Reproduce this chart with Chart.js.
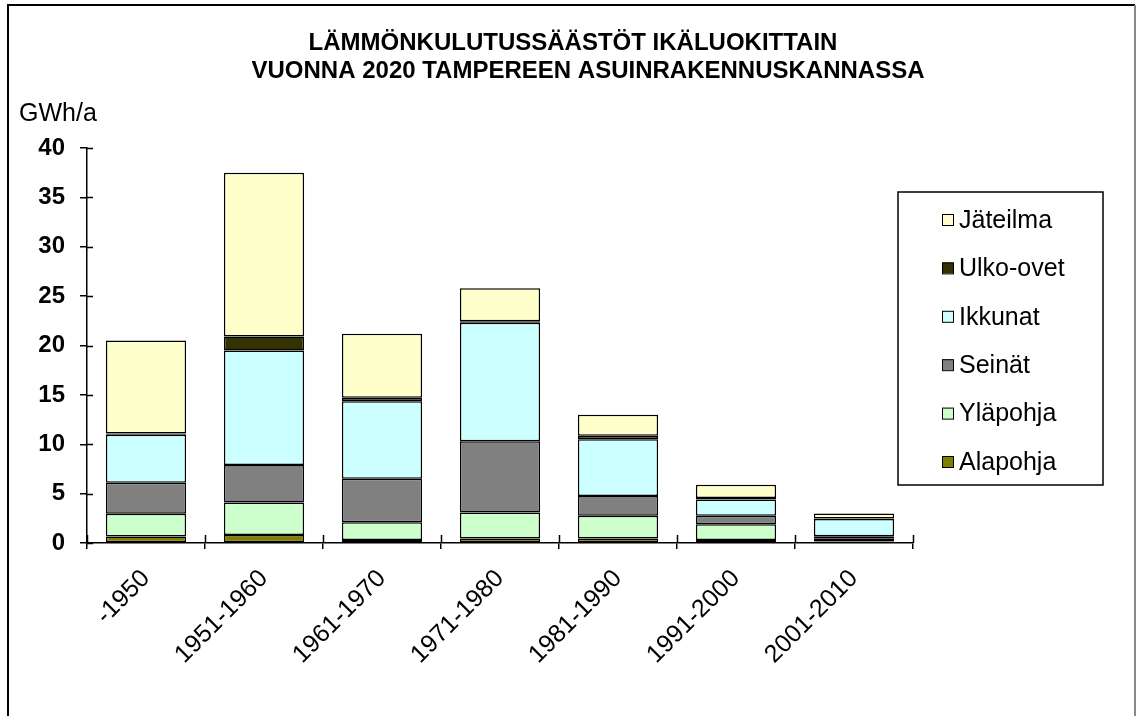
<!DOCTYPE html>
<html>
<head>
<meta charset="utf-8">
<script src="https://cdn.jsdelivr.net/npm/chart.js@4"></script>
<style>
  html, body { margin: 0; padding: 0; background: #fff; }
  #wrap { width: 1136px; height: 716px; }
</style>
</head>
<body>
<div id="wrap"><canvas id="lampo" width="1136" height="716"></canvas></div>
<script>
// ikäluokat ja säästöt (GWh/a)
var ikaluokat = ['-1950', '1951-1960', '1961-1970', '1971-1980', '1981-1990', '1991-2000', '2001-2010'];
var alapohja = [0.65, 0.8, 0.3, 0.45, 0.45, 0.3, 0.15];
var ylapohja = [2.3, 3.3, 1.8, 2.65, 2.3, 1.6, 0.27];
var seinat   = [3.15, 3.8, 4.4, 7.2, 2.0, 0.85, 0.27];
var ikkunat  = [4.85, 11.6, 7.85, 12.0, 5.75, 1.65, 1.75];
var ulkoovet = [0.15, 1.4, 0.35, 0.15, 0.35, 0.15, 0.05];
var jateilma = [9.4, 16.6, 6.5, 3.35, 2.15, 1.35, 0.5];
var yTicks = [0, 5, 10, 15, 20, 25, 30, 35, 40];

var otsikko = ['LÄMMÖNKULUTUSSÄÄSTÖT IKÄLUOKITTAIN', 'VUONNA 2020 TAMPEREEN ASUINRAKENNUSKANNASSA'];
var yksikko = 'GWh/a';

function sarja(nimi, arvot, vari) {
    return {
        label: nimi,
        data: arvot,
        backgroundColor: vari,
        borderColor: '#000',
        borderWidth: 1.5,
        borderSkipped: false,
        barPercentage: 0.68,
        categoryPercentage: 1.0
    };
}

var koristeet = {
    id: 'koristeet',
    afterDraw: function(chart) {
        var ctx = chart.ctx;
        var x = chart.scales.x, y = chart.scales.y;
        ctx.save();
        // kehys
        ctx.strokeStyle = '#000';
        ctx.lineWidth = 2;
        ctx.beginPath();
        ctx.moveTo(8, 720); ctx.lineTo(8, 5); ctx.lineTo(1135, 5);
        ctx.stroke();
        ctx.strokeStyle = '#888';
        ctx.beginPath();
        ctx.moveTo(1135, 5); ctx.lineTo(1135, 720);
        ctx.stroke();

        // otsikko
        ctx.fillStyle = '#000';
        ctx.textAlign = 'center';
        ctx.textBaseline = 'middle';
        ctx.font = 'bold 24px "Liberation Sans", Arial';
        ctx.fillText(otsikko[0], 573, 43);
        ctx.fillText(otsikko[1], 588, 71);

        ctx.font = '25px "Liberation Sans", Arial';
        ctx.textAlign = 'left';
        ctx.fillText(yksikko, 19, 114);

        // sisäpuoliset tikit
        ctx.strokeStyle = '#000';
        ctx.lineWidth = 1.5;
        ctx.beginPath();
        yTicks.forEach(function(v) {
            var py = Math.round(y.getPixelForValue(v)) + 0.5;
            ctx.moveTo(x.left, py); ctx.lineTo(x.left + 6, py);
        });
        var leveys = (x.right - x.left) / ikaluokat.length;
        for (var i = 0; i <= ikaluokat.length; i++) {
            var px = Math.round(x.left + i * leveys) + 0.5;
            ctx.moveTo(px, y.bottom); ctx.lineTo(px, y.bottom - 8);
        }
        ctx.stroke();

        // selite
        var lx = 898, ly = 192, lw = 205, lh = 293;
        ctx.lineWidth = 1.5;
        ctx.strokeRect(lx, ly, lw, lh);
        ctx.font = '25px "Liberation Sans", Arial';
        ctx.textBaseline = 'middle';
        var sarjat = chart.data.datasets.slice().reverse();
        sarjat.forEach(function(ds, k) {
            var cy = 220 + k * 48.4;
            ctx.fillStyle = ds.backgroundColor;
            ctx.fillRect(942, cy - 6, 11, 11);
            ctx.lineWidth = 1;
            ctx.strokeRect(942.5, cy - 5.5, 11, 11);
            ctx.fillStyle = '#000';
            ctx.fillText(ds.label, 959, cy + 1);
        });
        ctx.restore();
    }
};

var chart = new Chart(document.getElementById('lampo').getContext('2d'), {
    type: 'bar',
    data: {
        labels: ikaluokat,
        datasets: [
            sarja('Alapohja', alapohja, '#808000'),
            sarja('Yläpohja', ylapohja, '#CCFFCC'),
            sarja('Seinät', seinat, '#808080'),
            sarja('Ikkunat', ikkunat, '#CCFFFF'),
            sarja('Ulko-ovet', ulkoovet, '#333300'),
            sarja('Jäteilma', jateilma, '#FFFFCC')
        ]
    },
    options: {
        responsive: false,
        animation: false,
        layout: { padding: { top: 148, left: 0, right: 223, bottom: 0 } },
        plugins: {
            legend: { display: false },
            title: { display: false },
            tooltip: { enabled: false }
        },
        scales: {
            x: {
                stacked: true,
                afterFit: function(s) { s.height = 173; },
                grid: { drawOnChartArea: false, tickLength: 6, color: '#000', lineWidth: 1.5, offset: true },
                border: { color: '#000', width: 1.5 },
                ticks: {
                    color: '#000',
                    font: { family: '"Liberation Sans", Arial', size: 25 },
                    minRotation: 45,
                    maxRotation: 45,
                    padding: 15
                }
            },
            y: {
                stacked: true,
                min: 0,
                max: 40,
                afterFit: function(s) { s.width = 87; },
                afterBuildTicks: function(s) { s.ticks = yTicks.map(function(v) { return { value: v }; }); },
                grid: { drawOnChartArea: false, tickLength: 7, color: '#000', lineWidth: 1.5 },
                border: { color: '#000', width: 1.5 },
                ticks: {
                    color: '#000',
                    font: { family: '"Liberation Sans", Arial', size: 24, weight: 'bold' },
                    padding: 15
                }
            }
        }
    },
    plugins: [koristeet]
});
</script>
</body>
</html>
